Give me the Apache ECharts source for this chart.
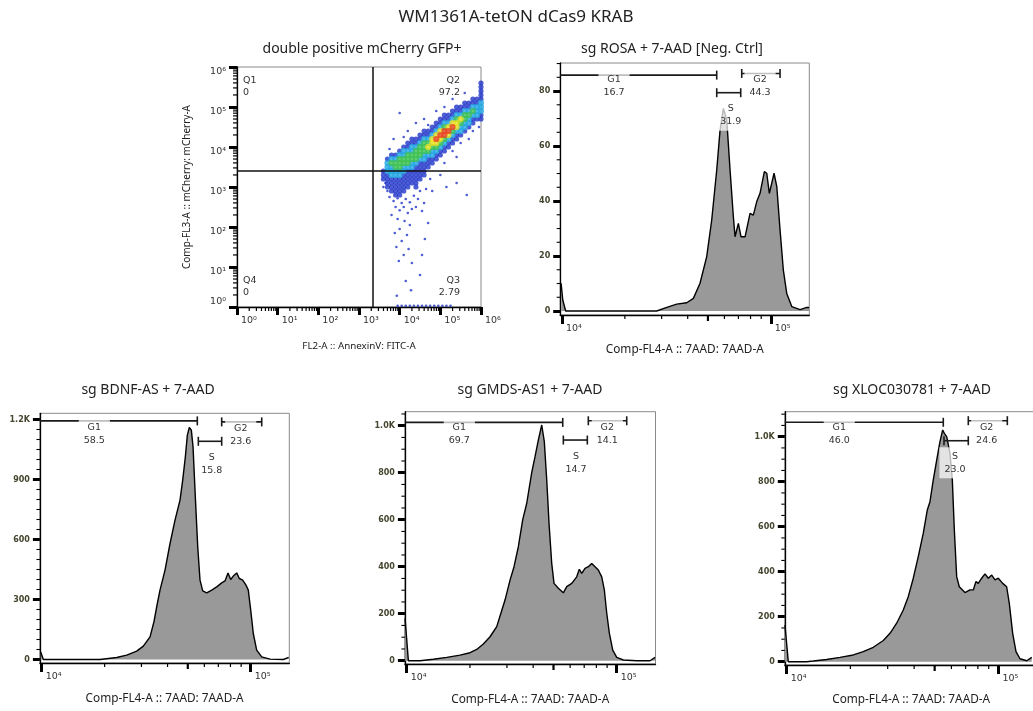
<!DOCTYPE html>
<html><head><meta charset="utf-8">
<script src="https://cdn.jsdelivr.net/npm/echarts@6/dist/echarts.min.js"></script>
<style>html,body{margin:0;padding:0;background:#fff}#c{width:1033px;height:711px}</style>
</head><body><div id="c"></div>
<script>
// ================= DATA =================
const mainTitle = 'WM1361A-tetON dCas9 KRAB';
const panelTitles = ['double positive mCherry GFP+', 'sg ROSA + 7-AAD [Neg. Ctrl]', 'sg BDNF-AS + 7-AAD', 'sg GMDS-AS1 + 7-AAD', 'sg XLOC030781 + 7-AAD'];
const scatterXTitle = 'FL2-A :: AnnexinV: FITC-A';
const scatterYTitle = 'Comp-FL3-A :: mCherry: mCherry-A';
const histXTitle = 'Comp-FL4-A :: 7AAD: 7AAD-A';

// scatter: density, per column of log10(FITC), cells every 0.1 decade of log10(mCherry)
const densityColX = [3.6,3.7,3.8,3.9,4.0,4.1,4.2,4.3,4.4,4.5,4.6,4.7,4.8,4.9,5.0,5.1,5.2,5.3,5.4,5.5,5.6,5.7,5.8,5.9,6.0];
const densityColY0 = [3.2,3.0,2.9,2.8,2.8,2.9,3.0,3.1,3.0,3.2,3.3,3.5,3.6,3.7,3.8,3.9,4.0,4.1,4.2,4.3,4.4,4.5,4.6,4.7,4.7];
const densityColLevels = ['111','11112221','1111222321','11111223321','111112233321','111112233221','111112333211','111122332211','1111112333211','111112333211','111122333211','1112343211','1122344211','1123454211','1123454211','1123553211','112454211','112354211','112443211','12234211','12233211','1223211','1123211','122211','1122211111'];
// sparse single events (log10 FITC, log10 mCherry)
const sparseLogX = [3.75,3.85,3.95,4.05,4.15,4.25,4.35,4.45,3.9,4.0,4.1,4.2,4.3,3.8,3.95,4.12,4.25,4.0,3.88,4.18,4.05,3.92,4.22,4.1,3.98,4.3,4.55,4.5,4.15,3.93,4.28,4.62,4.7,4.55,4.6,4.8,5.15,5.4,5.65,5.0,4.75,3.7,3.65,3.6,4.5,4.4,4.65,4.0,4.2,3.85,4.4,4.6,4.9,5.3,4.1,3.75,4.7,5.1,5.6,5.5,5.8,5.3,5.1,5.7,5.95,5.4];
const sparseLogY = [2.75,2.65,2.72,2.6,2.7,2.62,2.78,2.7,2.5,2.42,2.5,2.35,2.45,2.3,2.2,2.15,2.05,1.95,1.85,1.8,1.65,1.5,1.45,1.3,1.15,1.1,1.3,0.8,0.65,0.28,0.42,1.7,2.1,2.4,2.6,2.9,3.0,3.1,2.8,3.3,3.2,2.9,3.1,3.0,2.9,2.5,2.95,4.85,4.4,4.2,4.6,4.7,4.9,5.2,4.25,3.95,4.55,5.0,5.35,4.1,4.4,3.9,3.6,4.2,4.5,3.75];
const axisEventLogX = [3.95,4.05,4.15,4.25,4.35,4.45,4.55,4.65,4.75,4.85,4.95,5.05,5.15,5.25];
const axisEventLogY = 0.03;
const quadrantX = 2210;
const quadrantY = 2510;
const quadrantNames = ['Q1','Q2','Q3','Q4'];
const quadrantPct = ['0','97.2','2.79','0'];
const quadrantLabelX = [1.4, 304000, 304000, 1.4];
const quadrantLabelY = [316000, 316000, 3.16, 3.16];

// histograms (7AAD channel value, count)
const rosaX = [9900,10080,10410,28430,31760,35440,39580,42590,45830,49340,52140,55100,57160,59320,61550,63830,66200,67450,69950,72060,75320,79580,82530,85680,88860,93180,95680,98470,103700,106900,110800,114900,119300,126100,138200,148800,152600];
const rosaY = [10.1,4,0,0,1.3,2.5,3.0,4.6,10.1,19.8,33.1,51.3,65.8,73.7,69.5,51.3,34.3,27.0,31.9,27.0,27.0,35.5,34.9,39.8,42.8,50.7,50.1,42.8,50.1,45.2,29.5,14.9,6.4,1.6,0.5,1.3,1.3];
const bdnfX = [9890,10180,17660,19000,22850,25510,28480,30630,32980,34460,35740,36810,38900,41110,43430,45890,47270,48670,49750,50850,51990,52970,54320,55780,57200,58940,61590,65080,68750,72640,75340,77880,80230,82550,85700,88210,91560,94950,97390,100000,102900,106800,112900,123700,143200,152000];
const bdnfY = [38,0,0,0,10,22,42,67,113,190,280,347,447,580,697,797,897,1013,1122,1160,1147,1063,813,563,397,343,333,347,363,383,393,433,400,417,433,405,397,372,347,247,130,47,13,2,0,10];
const gmdsX = [9817,10180,11570,13390,15510,17940,20020,21540,23160,24930,26830,28030,29380,31040,32430,34000,35680,37280,39370,40830,42330,43940,45200,46420,47600,49030,50280,52720,55690,57800,61050,64490,66360,68130,70630,73240,76030,78830,81740,84840,87300,89640,92230,95720,100000,107500,124500,144100,152200];
const gmdsY = [180,0,0,6,14,24,34,48,71,102,145,200,258,343,400,485,600,670,800,868,939,1003,932,769,585,414,329,308,289,315,329,357,389,372,393,400,414,400,386,357,301,202,117,45,14,3,0,0,14];
const xlocX = [9817,10180,12430,13360,15450,17860,20640,23000,25660,28610,30760,33080,35540,37530,39630,41840,44190,46150,47520,49260,51120,52980,54570,55530,56990,59080,60600,61930,63530,65350,69540,73420,76110,78370,80360,83380,86430,89600,92980,96390,99900,104800,109400,112600,116800,121100,126500,136100,143700];
const xlocY = [163,0,0,3,10,19,30,45,64,94,126,171,230,289,371,467,571,674,711,808,896,978,1030,1015,1000,926,807,585,378,333,307,319,319,356,348,371,390,371,385,364,371,348,333,259,126,45,13,4,19];

// cell-cycle gates: [G1, S, G2]
const gateNames = ['G1','S','G2'];
const rosaGateStart = [5000, 55100, 72600];
const rosaGateEnd = [55100, 71800, 110800];
const rosaGateBarY = [85.8, 79.4, 86.4];
const rosaGateLabelX = [17750, 64310, 88870];
const rosaGateLabelY = [81.8, 71.2, 82.0];
const rosaGatePct = ['16.7','31.9','44.3'];
const bdnfGateStart = [5000, 56150, 72640];
const bdnfGateEnd = [55530, 72640, 112900];
const bdnfGateBarY = [1193, 1091, 1188];
const bdnfGateLabelX = [17850, 65080, 89590];
const bdnfGateLabelY = [1125, 978, 1124];
const bdnfGatePct = ['58.5','15.8','23.6'];
const gmdsGateStart = [5000, 55690, 73240];
const gmdsGateEnd = [55330, 72440, 111600];
const gmdsGateBarY = [1014, 939, 1021];
const gmdsGateLabelX = [17800, 64010, 90210];
const gmdsGateLabelY = [964, 842, 964];
const gmdsGatePct = ['69.7','14.7','14.1'];
const xlocGateStart = [5000, 55340, 72080];
const xlocGateEnd = [54920, 72080, 110200];
const xlocGateBarY = [1064, 982, 1071];
const xlocGateLabelX = [17720, 62370, 88050];
const xlocGateLabelY = [1011, 884, 1011];
const xlocGatePct = ['46.0','23.0','24.6'];

// axis ticks
const scatterDecades = [1,10,100,1000,10000,100000,1000000];
const histDecades = [10000, 100000];
const histMid = [50000];
const histMinor = [20000,30000,40000,60000,70000,80000,90000];
const rosaYTicks = [0,20,40,60,80];
const bdnfYTicks = [0,300,600,900,1200];
const gmdsYTicks = [0,200,400,600,800,1000];
const xlocYTicks = [0,200,400,600,800,1000];

// ================= CHART =================
const FONT_UI = 'Noto Sans';
const FONT_TICK = 'DejaVu Sans';
const SUP = {'0':'\u2070','1':'\u00B9','2':'\u00B2','3':'\u00B3','4':'\u2074','5':'\u2075','6':'\u2076','7':'\u2077','8':'\u2078','9':'\u2079'};
function decadeLabel(v) { const e = Math.round(Math.log10(v)); return '10' + String(e).split('').map(c => SUP[c]).join(''); }
function countLabel(v) { return v >= 1000 ? (v / 1000).toFixed(1) + 'K' : String(v); }
const zip = (a, b) => a.map((v, i) => [v, b[i]]);

const xAxes = [], yAxes = [], series = [], tickSpecs = [];
function base(grid, type, min, max, pos, majors, len) {
  return { gridIndex: grid, type, min, max, position: pos,
    splitLine: {show: false}, splitArea: {show: false}, minorTick: {show: false}, minorSplitLine: {show: false},
    axisLine: {show: true, onZero: false, lineStyle: {color: '#000', width: 1.3}},
    axisTick: {show: true, customValues: majors, length: len, lineStyle: {color: '#000', width: 3}} };
}
function makeLogX(grid, min, max, labels, name, nameGap, nameSize, len) {
  const c = base(grid, 'log', min, max, 'bottom', labels, len);
  c.axisLabel = {show: true, customValues: labels, formatter: decadeLabel, margin: 9, color: '#333',
    fontFamily: FONT_TICK, fontSize: 9.5, align: 'left', padding: [0, 0, 0, 4]};
  c.name = name; c.nameLocation = 'middle'; c.nameGap = nameGap;
  c.nameTextStyle = {fontFamily: FONT_UI, fontSize: nameSize, color: '#222'};
  xAxes.push(c); return xAxes.length - 1;
}
function makeLogY(grid, min, max, labels, name, nameGap) {
  const c = base(grid, 'log', min, max, 'left', labels, 8);
  c.axisLabel = {show: true, customValues: labels, formatter: decadeLabel, margin: 11, color: '#333',
    fontFamily: FONT_TICK, fontSize: 9.5, verticalAlign: 'top', verticalAlignMinLabel: 'bottom'};
  c.name = name; c.nameLocation = 'middle'; c.nameGap = nameGap; c.nameRotate = 90;
  c.nameTextStyle = {fontFamily: FONT_UI, fontSize: 10, color: '#222'};
  yAxes.push(c); return yAxes.length - 1;
}
function makeLinY(grid, min, max, labels) {
  const c = base(grid, 'value', min, max, 'left', labels, 7);
  c.axisLabel = {show: true, customValues: labels, formatter: countLabel, margin: 10, color: '#45452f',
    fontFamily: FONT_TICK, fontSize: 8, fontWeight: 'bold'};
  yAxes.push(c); return yAxes.length - 1;
}

const grids = [
  {left: 237, top: 67, width: 244, height: 240},
  {left: 560.2, top: 63, width: 249.1, height: 252},
  {left: 39.9, top: 413.3, width: 249.4, height: 249.7},
  {left: 404.9, top: 411.7, width: 250.6, height: 252.3},
  {left: 784.8, top: 411.7, width: 252.7, height: 253.3}
].map(g => Object.assign(g, {show: true, borderColor: '#8a8a8a', borderWidth: 1, outerBoundsMode: 'none', containLabel: false}));

const HXMIN = 9800, HXMAX = 153000;
const scatterMinor = [];
for (let d = 0; d < 6; d++) for (let k = 2; k <= 9; k++) scatterMinor.push(k * Math.pow(10, d));

// ---- scatter panel ----
const sx = makeLogX(0, 1, 1e6, scatterDecades, scatterXTitle, 34, 9.8, 8);
const sy = makeLogY(0, 1, 1e6, scatterDecades, scatterYTitle, 45);
tickSpecs.push({dir: 'x', xi: sx, yi: sy, anchor: 1, vals: scatterMinor, len: 4, w: 1.2});
tickSpecs.push({dir: 'y', xi: sx, yi: sy, anchor: 1, vals: scatterMinor, len: 4, w: 1.2});

const levelColors = ['#2035c8', '#22a6e2', '#3cc050', '#e8e020', '#e8401e'];
const levelSize = [5.2, 6.2, 6.2, 6.2, 6.2];
const buckets = [[], [], [], [], []];
densityColX.forEach((lx, i) => {
  densityColLevels[i].split('').forEach((ch, k) => {
    const ly = Math.round((densityColY0[i] + 0.1 * k) * 100) / 100;
    buckets[+ch - 1].push([Math.pow(10, lx), Math.pow(10, ly)]);
  });
});
series.push({type: 'scatter', xAxisIndex: sx, yAxisIndex: sy, symbolSize: 2.6, silent: true, z: 2,
  itemStyle: {color: '#2035c8'},
  data: zip(sparseLogX, sparseLogY).map(p => [Math.pow(10, p[0]), Math.pow(10, p[1])])
    .concat(axisEventLogX.map(v => [Math.pow(10, v), Math.pow(10, axisEventLogY)]))});
buckets.forEach((b, i) => series.push({type: 'scatter', xAxisIndex: sx, yAxisIndex: sy, data: b, silent: true,
  symbolSize: levelSize[i], itemStyle: {color: levelColors[i]}, z: 3 + i}));
// quadrant gate lines
series.push({type: 'custom', xAxisIndex: sx, yAxisIndex: sy, z: 20, silent: true,
  data: [[quadrantX, quadrantY]],
  renderItem(params, api) {
    const cs = params.coordSys;
    const p = api.coord([api.value(0), api.value(1)]);
    const st = {stroke: '#111', lineWidth: 1.5};
    return {type: 'group', children: [
      {type: 'line', shape: {x1: p[0], y1: cs.y, x2: p[0], y2: cs.y + cs.height}, style: st},
      {type: 'line', shape: {x1: cs.x, y1: p[1], x2: cs.x + cs.width, y2: p[1]}, style: st}
    ]};
  }});
series.push({type: 'custom', xAxisIndex: sx, yAxisIndex: sy, z: 21, silent: true,
  data: zip(quadrantLabelX, quadrantLabelY),
  renderItem(params, api) {
    const p = api.coord([api.value(0), api.value(1)]);
    const i = params.dataIndex;
    return {type: 'text', x: p[0], y: p[1], style: {text: quadrantNames[i] + '\n' + quadrantPct[i],
      fontFamily: FONT_TICK, fontSize: 9.5, lineHeight: 12, fill: '#333',
      align: (i === 0 || i === 3) ? 'left' : 'right', verticalAlign: 'middle'}};
  }});

// ---- histogram panels ----
const panels = [
  {grid: 1, x: rosaX, y: rosaY, ymin: -1.45, ymax: 90.2, ticks: rosaYTicks, minor: 5, gs: rosaGateStart, ge: rosaGateEnd, gy: rosaGateBarY, lx: rosaGateLabelX, ly: rosaGateLabelY, pct: rosaGatePct, gap: 29},
  {grid: 2, x: bdnfX, y: bdnfY, ymin: -17.5, ymax: 1231, ticks: bdnfYTicks, minor: 50, gs: bdnfGateStart, ge: bdnfGateEnd, gy: bdnfGateBarY, lx: bdnfGateLabelX, ly: bdnfGateLabelY, pct: bdnfGatePct, gap: 30},
  {grid: 3, x: gmdsX, y: gmdsY, ymin: -14, ymax: 1059.6, ticks: gmdsYTicks, minor: 50, gs: gmdsGateStart, ge: gmdsGateEnd, gy: gmdsGateBarY, lx: gmdsGateLabelX, ly: gmdsGateLabelY, pct: gmdsGatePct, gap: 30},
  {grid: 4, x: xlocX, y: xlocY, ymin: -14.7, ymax: 1111, ticks: xlocYTicks, minor: 50, gs: xlocGateStart, ge: xlocGateEnd, gy: xlocGateBarY, lx: xlocGateLabelX, ly: xlocGateLabelY, pct: xlocGatePct, gap: 29}
];
panels.forEach(p => {
  const xi = makeLogX(p.grid, HXMIN, HXMAX, histDecades, histXTitle, p.gap, 11.8, 9);
  const yi = makeLinY(p.grid, p.ymin, p.ymax, p.ticks);
  const minorVals = [];
  for (let v = p.minor; v < p.ymax; v += p.minor) if (p.ticks.indexOf(v) < 0) minorVals.push(v);
  tickSpecs.push({dir: 'x', xi, yi, anchor: p.ymin, vals: histMid, len: 6, w: 2.2});
  tickSpecs.push({dir: 'x', xi, yi, anchor: p.ymin, vals: histMinor, len: 4, w: 1.2});
  tickSpecs.push({dir: 'y', xi, yi, anchor: HXMIN, vals: minorVals, len: 3.5, w: 1.1});
  series.push({type: 'line', xAxisIndex: xi, yAxisIndex: yi, data: zip(p.x, p.y), symbol: 'none', showSymbol: false,
    silent: true, z: 2, lineStyle: {color: '#000', width: 1.4}, areaStyle: {color: '#999999', opacity: 1}});
  series.push({type: 'custom', xAxisIndex: xi, yAxisIndex: yi, z: 5, silent: true,
    data: p.gs.map((s, i) => [s, p.ge[i], p.gy[i]]), encode: {x: [0, 1], y: 2},
    renderItem(params, api) {
      const cs = params.coordSys;
      const a = api.coord([api.value(0), api.value(2)]);
      const b = api.coord([api.value(1), api.value(2)]);
      const L = cs.x, R = cs.x + cs.width, y = a[1];
      const st = {stroke: '#1a1a1a', lineWidth: 1.6};
      const ch = [{type: 'line', shape: {x1: Math.max(a[0], L), y1: y, x2: Math.min(b[0], R), y2: y}, style: st}];
      if (a[0] >= L) ch.push({type: 'line', shape: {x1: a[0], y1: y - 4.5, x2: a[0], y2: y + 4.5}, style: st});
      if (b[0] <= R) ch.push({type: 'line', shape: {x1: b[0], y1: y - 4.5, x2: b[0], y2: y + 4.5}, style: st});
      return {type: 'group', children: ch};
    }});
  series.push({type: 'custom', xAxisIndex: xi, yAxisIndex: yi, z: 6, silent: true,
    data: zip(p.lx, p.ly),
    renderItem(params, api) {
      const q = api.coord([api.value(0), api.value(1)]);
      const i = params.dataIndex;
      return {type: 'text', x: q[0], y: q[1], style: {text: gateNames[i] + '\n' + p.pct[i],
        fontFamily: FONT_TICK, fontSize: 9.5, lineHeight: 13, fill: '#333', align: 'center', verticalAlign: 'middle',
        backgroundColor: 'rgba(255,255,255,0.72)', padding: [2, 5, 3, 5]}};
    }});
});

const titleCfg = [
  [mainTitle, 516, 8.5, 17], [panelTitles[0], 362, 42, 14], [panelTitles[1], 672, 42, 14],
  [panelTitles[2], 148, 383, 14], [panelTitles[3], 530, 383, 14], [panelTitles[4], 912, 383, 14]
];
const option = {
  animation: false,
  backgroundColor: '#ffffff',
  textStyle: {fontFamily: FONT_UI},
  title: titleCfg.map(t => ({text: t[0], left: t[1], top: t[2], textAlign: 'center', padding: 0,
    textStyle: {fontFamily: FONT_UI, fontSize: t[3], fontWeight: 'normal', color: '#222'}})),
  grid: grids, xAxis: xAxes, yAxis: yAxes, series
};
const chart = echarts.init(document.getElementById('c'), null, {renderer: 'canvas'});
try { chart.setOption(option); } catch (e) { /* continue so minor ticks are still added */ }

// minor tick marks: positions come from the axes' own scales (convertToPixel)
try {
  const tickGraphics = [];
  tickSpecs.forEach(t => {
    if (t.dir === 'x') {
      const yb = chart.convertToPixel({yAxisIndex: t.yi}, t.anchor);
      t.vals.forEach(v => {
        const px = chart.convertToPixel({xAxisIndex: t.xi}, v);
        tickGraphics.push({type: 'line', shape: {x1: px, y1: yb, x2: px, y2: yb + t.len}, style: {stroke: '#000', lineWidth: t.w}});
      });
    } else {
      const xl = chart.convertToPixel({xAxisIndex: t.xi}, t.anchor);
      t.vals.forEach(v => {
        const py = chart.convertToPixel({yAxisIndex: t.yi}, v);
        tickGraphics.push({type: 'line', shape: {x1: xl - t.len, y1: py, x2: xl, y2: py}, style: {stroke: '#000', lineWidth: t.w}});
      });
    }
  });
  chart.setOption({graphic: {elements: tickGraphics}});
} catch (e) { /* ignore */ }
</script></body></html>
